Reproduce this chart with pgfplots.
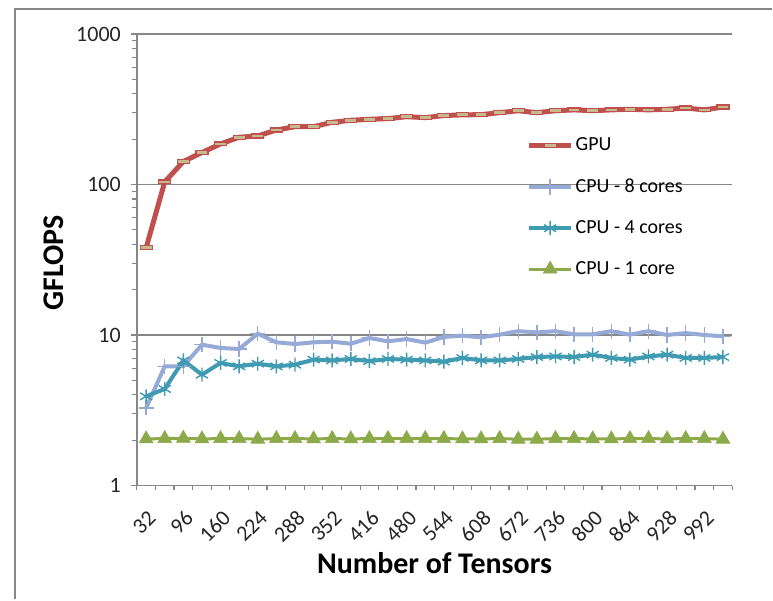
\documentclass[border=0pt]{standalone}
\usepackage{pgfplots}
\pgfplotsset{compat=1.18}
\usepackage{fontspec}
\setmainfont{Carlito}
\definecolor{gpured}{HTML}{C0504D}
\definecolor{gputan}{HTML}{C9B98E}
\definecolor{cpu8}{HTML}{95AAD6}
\definecolor{cpu4}{HTML}{3E9BB2}
\definecolor{cpu1}{HTML}{8DAA4B}
\definecolor{axgray}{HTML}{878787}
\pgfplotstableread{
x gpu cpu8 cpu4 cpu1
1 38 3.28 3.91 2.04
2 104 6.19 4.38 2.05
3 142 6.2 6.78 2.06
4 163 8.62 5.45 2.04
5 186 8.2 6.52 2.05
6 206 8.07 6.19 2.05
7 210 10.2 6.45 2.03
8 230 8.94 6.19 2.05
9 242 8.71 6.35 2.05
10 242 8.94 6.86 2.04
11 259 9.03 6.78 2.05
12 267 8.75 6.93 2.04
13 271 9.55 6.7 2.05
14 274 9.07 6.93 2.05
15 282 9.4 6.86 2.05
16 278 8.9 6.78 2.05
17 287 9.7 6.65 2.05
18 290 9.9 7.04 2.04
19 291 9.65 6.78 2.04
20 300 10.05 6.78 2.05
21 309 10.6 6.93 2.03
22 300 10.4 7.14 2.03
23 309 10.6 7.2 2.05
24 313 10.1 7.14 2.05
25 309 10.1 7.4 2.04
26 313 10.6 7.04 2.04
27 316 10.05 6.86 2.05
28 313 10.6 7.2 2.05
29 316 10.0 7.4 2.04
30 322 10.3 7.04 2.05
31 313 10.0 7.04 2.05
32 327 9.8 7.14 2.03
}\datatable
\begin{document}
\begin{tikzpicture}
\begin{axis}[
  scale only axis,
  width=298pt, height=226pt,
  xmin=0.5, xmax=32.5,
  ymode=log, ymin=1, ymax=1000,
  axis x line*=bottom, axis y line*=left,
  axis line style={axgray, line width=0.8pt},
  xtick={1,3,...,31},
  xticklabels={32,96,160,224,288,352,416,480,544,608,672,736,800,864,928,992},
  minor xtick={0.5,1.5,...,32.5},
  ytick={1,10,100,1000},
  yticklabels={1,10,100,1000},
  tick align=outside,
  major x tick style={draw=none},
  minor x tick style={axgray, line width=0.6pt},
  major y tick style={axgray, line width=0.6pt},
  minor y tick style={axgray, line width=0.6pt},
  major tick length=3pt, minor tick length=2.5pt,
  ymajorgrids, major grid style={axgray, line width=0.8pt},
  tick label style={font=\fontsize{11}{13}\selectfont, text=black!85},
  xticklabel style={rotate=45, anchor=north east, xshift=-2.5pt, yshift=-3pt},
  yticklabel style={xshift=-1.5pt},
  xlabel={\textbf{Number of Tensors}},
  ylabel={\textbf{GFLOPS}},
  every axis x label/.style={at={(rel axis cs:0.5,-0.172)}, anchor=center,
    font=\fontsize{15}{17}\selectfont\bfseries},
  every axis y label/.style={at={(rel axis cs:-0.139,0.493)}, rotate=90, anchor=center,
    font=\fontsize{15}{17}\selectfont\bfseries},
  legend style={draw=none, fill=none, at={(rel axis cs:0.654,0.78)}, anchor=north west,
    font=\fontsize{10}{12}\selectfont, row sep=8.5pt, inner xsep=0pt, inner ysep=0pt,
    nodes={inner xsep=1pt}},
  legend cell align=left,
  legend image code/.code={\draw[mark repeat=2,mark phase=2] plot coordinates {(0cm,0cm)(0.37cm,0cm)(0.74cm,0cm)};},
  clip=false,
]
\addplot[gpured, line width=2.5pt, mark=square*, mark size=3pt,
  mark options={yscale=0.33, fill=gputan, draw=gpured, line width=0.6pt, solid}]
  table[x=x, y=gpu] {\datatable};
\addlegendentry{GPU}
\addplot[cpu8, line width=2pt, mark=+, mark size=3.8pt,
  mark options={line width=0.7pt}]
  table[x=x, y=cpu8] {\datatable};
\addlegendentry{CPU - 8 cores}
\addplot[cpu4, line width=2pt, mark=asterisk, mark size=3.5pt,
  mark options={line width=0.7pt}]
  table[x=x, y=cpu4] {\datatable};
\addlegendentry{CPU - 4 cores}
\addplot[cpu1, line width=1.5pt, mark=triangle*, mark size=4pt,
  mark options={fill=cpu1, draw=cpu1, line width=0.3pt}]
  table[x=x, y=cpu1] {\datatable};
\addlegendentry{CPU - 1 core}
\coordinate (BL) at (rel axis cs:-0.2298,-0.2522);
\coordinate (TR) at (rel axis cs:1.0671,1.0752);
\coordinate (FL) at (rel axis cs:-0.2047,-0.2522);
\coordinate (FT) at (rel axis cs:1.0671,1.0553);
\end{axis}
\pgfresetboundingbox
\path (BL) rectangle (TR);
\draw[axgray, line width=0.8pt] (FL) -- (FL|-FT) -- (FT);
\end{tikzpicture}
\end{document}
